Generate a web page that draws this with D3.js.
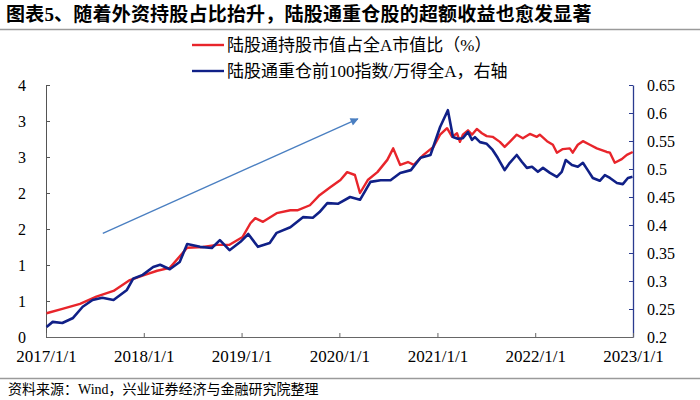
<!DOCTYPE html>
<html>
<head>
<meta charset="utf-8">
<script src="https://cdn.jsdelivr.net/npm/d3@7/dist/d3.min.js"></script>
<style>
  html, body { margin: 0; padding: 0; background: #fff; }
  svg { display: block; }
  text { font-family: "Liberation Serif", "Noto Sans CJK SC", serif; }
</style>
</head>
<body>
<svg id="chart" width="700" height="400"></svg>
<script>
// ---------- DATA ----------
const titleText = "图表5、随着外资持股占比抬升，陆股通重仓股的超额收益也愈发显著";
const sourceText = "资料来源：Wind，兴业证券经济与金融研究院整理";
const seriesNames = ["陆股通持股市值占全A市值比（%）", "陆股通重仓前100指数/万得全A，右轴"];

const redDates = ["2017-01-03","2017-03-03","2017-05-08","2017-07-08","2017-09-10","2017-11-10",
  "2018-01-02","2018-02-20","2018-04-08","2018-06-12","2018-08-10","2018-10-01","2018-11-17",
  "2019-01-05","2019-02-03","2019-02-21","2019-03-22","2019-05-12","2019-07-02","2019-07-28",
  "2019-09-13","2019-10-19","2019-11-28","2020-01-05","2020-01-30","2020-02-28","2020-03-18",
  "2020-04-16","2020-05-22","2020-06-28","2020-07-20","2020-08-15","2020-09-13","2020-10-05",
  "2020-11-10","2020-12-17",
  "2021-01-11","2021-02-06","2021-02-25","2021-03-15","2021-03-26","2021-04-06","2021-04-25",
  "2021-05-10","2021-05-28","2021-06-16","2021-07-04","2021-07-26","2021-08-22","2021-09-09",
  "2021-09-28","2021-10-24","2021-11-16","2021-12-12","2022-01-07","2022-01-18","2022-02-14",
  "2022-03-08","2022-03-23","2022-04-14","2022-05-10","2022-05-21","2022-06-09","2022-06-28",
  "2022-07-24","2022-08-19","2022-09-25","2022-10-07","2022-10-25","2022-11-20","2022-12-09",
  "2022-12-31"];
const redValues = [0.83,0.89,0.96,1.06,1.14,1.29,
  1.36,1.42,1.46,1.74,1.75,1.78,1.78,
  1.89,2.08,2.15,2.10,2.22,2.26,2.26,
  2.33,2.47,2.58,2.68,2.79,2.75,2.50,
  2.68,2.79,2.96,3.12,2.89,2.93,2.89,
  3.03,3.14,
  3.31,3.40,3.28,3.33,3.21,3.31,3.37,
  3.31,3.39,3.33,3.29,3.28,3.21,3.14,
  3.21,3.31,3.26,3.32,3.28,3.31,3.22,
  3.17,3.06,3.11,3.12,3.06,3.17,3.22,
  3.17,3.12,3.07,3.06,2.92,2.97,3.03,
  3.07];

const blueDates = ["2017-01-03","2017-01-26","2017-03-03","2017-04-12","2017-05-18","2017-06-24",
  "2017-07-30","2017-09-10","2017-10-30","2017-11-22","2017-12-28","2018-02-05","2018-03-03",
  "2018-04-08","2018-05-15","2018-06-12","2018-07-30","2018-09-12","2018-10-12","2018-11-17",
  "2018-12-28","2019-01-26","2019-03-03","2019-04-16","2019-05-12","2019-07-02","2019-08-18",
  "2019-09-24","2019-10-19","2019-11-17","2019-12-28","2020-02-10","2020-03-18","2020-04-26",
  "2020-06-03","2020-07-10","2020-08-15","2020-09-24","2020-10-30","2020-12-06",
  "2021-01-11","2021-02-09","2021-02-28","2021-03-18","2021-04-06","2021-04-25","2021-05-10",
  "2021-05-21","2021-06-09","2021-07-04","2021-07-26","2021-08-14","2021-09-09","2021-09-28",
  "2021-10-24","2021-11-12","2021-12-01","2021-12-20","2022-01-11","2022-01-30","2022-02-25",
  "2022-03-23","2022-04-10","2022-04-25","2022-05-18","2022-06-09","2022-06-28","2022-07-16",
  "2022-08-04","2022-08-30","2022-09-18","2022-10-07","2022-11-02","2022-11-24","2022-12-13",
  "2022-12-30"];
const blueValues = [0.218,0.227,0.225,0.234,0.254,0.266,
  0.270,0.266,0.284,0.304,0.311,0.325,0.329,
  0.321,0.334,0.366,0.361,0.359,0.373,0.355,
  0.370,0.384,0.361,0.368,0.386,0.396,0.414,
  0.413,0.423,0.439,0.438,0.450,0.445,0.477,
  0.480,0.480,0.493,0.498,0.520,0.525,
  0.575,0.605,0.557,0.554,0.555,0.566,0.552,
  0.557,0.548,0.545,0.534,0.520,0.498,0.511,
  0.525,0.513,0.502,0.504,0.495,0.502,0.493,
  0.486,0.495,0.516,0.507,0.504,0.511,0.498,
  0.484,0.479,0.489,0.484,0.475,0.473,0.484,
  0.486];

const xTickDates = ["2017-01-01","2018-01-01","2019-01-01","2020-01-01","2021-01-01","2022-01-01","2023-01-01"];
const xTickLabels = ["2017/1/1","2018/1/1","2019/1/1","2020/1/1","2021/1/1","2022/1/1","2023/1/1"];
const leftTickValues = [0.5,1,1.5,2,2.5,3,3.5,4];
const leftTickLabels = ["0","1","1","2","2","3","3","4"];
const rightTickValues = [0.2,0.25,0.3,0.35,0.4,0.45,0.5,0.55,0.6,0.65];
const rightTickLabels = ["0.2","0.25","0.3","0.35","0.4","0.45","0.5","0.55","0.6","0.65"];

// arrow annotation in data coordinates (date, left-axis value)
const arrowDates = ["2017-08-01","2020-03-10"];
const arrowValues = [1.94,3.53];

// ---------- DRAW ----------
const parse = d3.timeParse("%Y-%m-%d");
const svg = d3.select("#chart");
const W = 700, H = 400;
const m = { left: 46, right: 633, top: 85, bottom: 337 };

const x = d3.scaleTime().domain([parse("2017-01-01"), parse("2023-01-01")]).range([m.left, m.right]);
const yL = d3.scaleLinear().domain([0.5, 4]).range([m.bottom, m.top]);
const yR = d3.scaleLinear().domain([0.2, 0.65]).range([m.bottom, m.top]);

// title
svg.append("text").attr("x", 6).attr("y", 21)
  .attr("font-size", 19).attr("font-weight", "bold").attr("fill", "#000")
  .attr("letter-spacing", 0.2)
  .text(titleText);
svg.append("line").attr("x1", 0).attr("x2", W).attr("y1", 29.5).attr("y2", 29.5)
  .attr("stroke", "#9a9a9a").attr("stroke-width", 1.5);

// footer
svg.append("line").attr("x1", 0).attr("x2", W).attr("y1", 378.5).attr("y2", 378.5)
  .attr("stroke", "#9a9a9a").attr("stroke-width", 1.5);
svg.append("text").attr("x", 8).attr("y", 394)
  .attr("font-size", 14).attr("fill", "#000")
  .text(sourceText);

// axes
const leftAxis = d3.axisLeft(yL).tickValues(leftTickValues)
  .tickFormat((d, i) => leftTickLabels[i]).tickSizeInner(-4).tickSizeOuter(0).tickPadding(20);
const gL = svg.append("g").attr("transform", `translate(${m.left},0)`).call(leftAxis);
gL.select(".domain").attr("stroke", "#555");
gL.selectAll(".tick line").attr("stroke", "#555");
gL.selectAll("text").attr("font-size", 16).attr("fill", "#000")
  .attr("font-family", "Liberation Serif, serif");

const rightAxis = d3.axisRight(yR).tickValues(rightTickValues)
  .tickFormat((d, i) => rightTickLabels[i]).tickSizeInner(-4).tickSizeOuter(0).tickPadding(14);
const gR = svg.append("g").attr("transform", `translate(${m.right},0)`).call(rightAxis);
gR.select(".domain").attr("stroke", "#2a3b8f").attr("stroke-width", 1.3);
gR.selectAll(".tick line").attr("stroke", "#2a3b8f");
gR.selectAll("text").attr("font-size", 16).attr("fill", "#000")
  .attr("font-family", "Liberation Serif, serif");

const bottomAxis = d3.axisBottom(x).tickValues(xTickDates.map(parse))
  .tickFormat((d, i) => xTickLabels[i]).tickSizeInner(-4).tickSizeOuter(0).tickPadding(13);
const gB = svg.append("g").attr("transform", `translate(0,${m.bottom})`).call(bottomAxis);
gB.select(".domain").attr("stroke", "#666");
gB.selectAll(".tick line").attr("stroke", "#666");
gB.selectAll("text").attr("font-size", 17).attr("fill", "#000")
  .attr("font-family", "Liberation Serif, serif");

// series
const redData = redDates.map((d, i) => ({ d: parse(d), v: redValues[i] }));
const blueData = blueDates.map((d, i) => ({ d: parse(d), v: blueValues[i] }));

svg.append("path").datum(redData)
  .attr("fill", "none").attr("stroke", "#e8252b").attr("stroke-width", 2.4)
  .attr("stroke-linejoin", "round")
  .attr("d", d3.line().x(p => x(p.d)).y(p => yL(p.v)));

svg.append("path").datum(blueData)
  .attr("fill", "none").attr("stroke", "#102087").attr("stroke-width", 2.6)
  .attr("stroke-linejoin", "round")
  .attr("d", d3.line().x(p => x(p.d)).y(p => yR(p.v)));

// arrow
const defs = svg.append("defs");
defs.append("marker").attr("id", "arrowhead")
  .attr("viewBox", "0 0 10 10").attr("refX", 9).attr("refY", 5)
  .attr("markerWidth", 9).attr("markerHeight", 8).attr("orient", "auto")
  .attr("markerUnits", "userSpaceOnUse")
  .append("path").attr("d", "M0,0 L10,5 L0,10 Z").attr("fill", "#4a7fc1");
const arrowPts = arrowDates.map((d, i) => [x(parse(d)), yL(arrowValues[i])]);
svg.append("line")
  .attr("x1", arrowPts[0][0]).attr("y1", arrowPts[0][1])
  .attr("x2", arrowPts[1][0]).attr("y2", arrowPts[1][1])
  .attr("stroke", "#4a7fc1").attr("stroke-width", 1.3)
  .attr("marker-end", "url(#arrowhead)");

// legend
const legendY = [45, 71];
const legendColors = ["#e8252b", "#102087"];
seriesNames.forEach((name, i) => {
  svg.append("line").attr("x1", 192).attr("x2", 224)
    .attr("y1", legendY[i]).attr("y2", legendY[i])
    .attr("stroke", legendColors[i]).attr("stroke-width", 2.4);
  svg.append("text").attr("x", 227).attr("y", legendY[i] + 6)
    .attr("font-size", 17).attr("fill", "#000").text(name);
});
</script>
</body>
</html>
